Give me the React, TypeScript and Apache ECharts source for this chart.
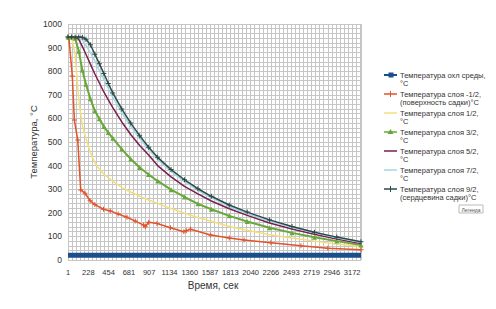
import React, { useEffect, useRef } from "react";
import * as echarts from "echarts";

const times = [0, 40, 80, 120, 160, 200, 250, 300, 350, 400, 450, 500, 600, 700, 800, 900, 1000, 1150, 1300, 1450, 1600, 1800, 2000, 2250, 2500, 2750, 3000, 3270];

const ambientTimes = [0, 3270];
const ambientValues = [20, 20];

const surfaceTimes = [0, 10, 48, 71, 109, 142, 190, 247, 300, 396, 471, 560, 658, 750, 844, 863, 900, 994, 1143, 1293, 1320, 1368, 1592, 1800, 1965, 2265, 2600, 2900, 3270];
const surfaceValues = [945, 940, 780, 593, 508, 297, 283, 251, 235, 215, 208, 195, 181, 165, 148, 141, 160, 155, 137, 120, 124, 130, 106, 93, 85, 73, 60, 50, 43];

const layer12 = [945, 945, 870, 680, 570, 515, 455, 412, 385, 365, 348, 333, 308, 288, 270, 254, 240, 218, 198, 180, 164, 142, 126, 107, 93, 80, 68, 57];
const layer32 = [945, 945, 940, 885, 805, 745, 683, 632, 598, 566, 540, 516, 470, 428, 392, 362, 335, 298, 267, 238, 215, 187, 163, 137, 115, 96, 80, 64];
const layer52 = [945, 945, 944, 935, 905, 872, 830, 788, 750, 712, 678, 646, 585, 532, 485, 445, 400, 352, 312, 280, 250, 217, 189, 157, 131, 109, 89, 70];
const layer72 = [945, 945, 945, 943, 932, 910, 880, 842, 803, 765, 727, 690, 625, 567, 515, 468, 426, 375, 332, 295, 263, 227, 197, 165, 138, 115, 94, 74];
const layer92 = [945, 945, 945, 945, 944, 935, 912, 872, 832, 790, 748, 708, 640, 580, 527, 478, 435, 383, 340, 302, 270, 233, 203, 170, 142, 118, 97, 77];

const seriesNames = [
  "Температура охл среды,\n°C",
  "Температура слоя -1/2,\n(поверхность садки)°C",
  "Температура слоя 1/2,\n°C",
  "Температура слоя 3/2,\n°C",
  "Температура слоя 5/2,\n°C",
  "Температура слоя 7/2,\n°C",
  "Температура слоя 9/2,\n(сердцевина садки)°C",
];
const colors = ["#1b4f8a", "#e2532b", "#f2df7a", "#68a83a", "#7b1e4e", "#a6d6e3", "#2e4a48"];
const markers = ["rect", "plus", "none", "triangle", "none", "none", "plus"];

const xAxisTitle = "Время, сек";
const yAxisTitle = "Температура, °C";
const legendButton = "Легенда";

const FONT = "'Liberation Sans', Arial, sans-serif";
const PLUS = "path://M2,0H3V2H5V3H3V5H2V3H0V2H2Z";

function pairs(ts: number[], vs: number[]) {
  return ts.map((t, i) => [t, vs[i]]);
}

function legendGraphic() {
  const els: any[] = [];
  seriesNames.forEach((name, i) => {
    const y0 = 75 + i * 19;
    const c = colors[i];
    els.push({ type: "line", shape: { x1: 384, y1: y0, x2: 397, y2: y0 }, style: { stroke: c, lineWidth: i === 0 ? 2 : 1.5 } });
    const m = markers[i];
    if (m === "rect") {
      els.push({ type: "rect", shape: { x: 388.5, y: y0 - 2.5, width: 5, height: 5 }, style: { fill: c } });
    } else if (m === "plus") {
      els.push({ type: "line", shape: { x1: 390.5, y1: y0 - 3, x2: 390.5, y2: y0 + 3 }, style: { stroke: c, lineWidth: 1 } });
    } else if (m === "triangle") {
      els.push({ type: "polygon", shape: { points: [[390.5, y0 - 3], [393.5, y0 + 2], [387.5, y0 + 2]] }, style: { fill: c } });
    }
    els.push({
      type: "text",
      x: 400,
      y: y0 - 4.3,
      style: { text: name, font: `7.5px ${FONT}`, fill: "#333", lineHeight: 8.6, align: "left", verticalAlign: "top" },
    });
  });
  els.push({ type: "rect", shape: { x: 459, y: 205, width: 24, height: 8 }, style: { fill: "#fff", stroke: "#bbb", lineWidth: 1 } });
  els.push({ type: "text", x: 471, y: 209.5, style: { text: legendButton, font: `5px ${FONT}`, fill: "#555", align: "center", verticalAlign: "middle" } });
  els.push({ type: "text", x: 33, y: 142, rotation: Math.PI / 2, style: { text: yAxisTitle, font: `9.5px ${FONT}`, fill: "#333", align: "center", verticalAlign: "middle" } });
  els.push({ type: "text", x: 213, y: 285, style: { text: xAxisTitle, font: `10px ${FONT}`, fill: "#333", align: "center", verticalAlign: "middle" } });
  return els;
}

export default function App() {
  const ref = useRef<HTMLDivElement>(null);
  useEffect(() => {
    const chart = echarts.init(ref.current!, null, { renderer: "svg" });
    const gridLine = { show: true, lineStyle: { color: "#c6c6c6", width: 1 } };
    const seriesData = [
      pairs(ambientTimes, ambientValues),
      pairs(surfaceTimes, surfaceValues),
      pairs(times, layer12),
      pairs(times, layer32),
      pairs(times, layer52),
      pairs(times, layer72),
      pairs(times, layer92),
    ];
    const series = seriesData.map((d, i) => {
      const m = markers[i];
      return {
        name: seriesNames[i],
        type: "line",
        data: d,
        symbol: i === 0 ? "none" : m === "plus" ? PLUS : m,
        symbolSize: 5,
        showSymbol: i !== 0 && m !== "none",
        lineStyle: { color: colors[i], width: i === 0 ? 5 : i === 3 ? 2 : 1.5 },
        itemStyle: { color: colors[i] },
        z: i === 0 ? 10 : 2 + i,
        silent: true,
      };
    });
    chart.setOption({
      animation: false,
      textStyle: { fontFamily: FONT },
      grid: { left: 68, right: 135, top: 24, bottom: 49 },
      xAxis: {
        type: "value",
        min: 0,
        max: 3270,
        interval: 226.5,
        axisLine: { show: false },
        axisTick: { show: false },
        axisLabel: {
          formatter: (v: number) => String(Math.round(v + 1)),
          fontSize: 7.5,
          color: "#333",
          margin: 8,
          showMaxLabel: false,
          fontFamily: FONT,
        },
        splitLine: gridLine,
        minorTick: { show: false, splitNumber: 5 },
        minorSplitLine: gridLine,
      },
      yAxis: {
        type: "value",
        min: 0,
        max: 1000,
        interval: 100,
        axisLine: { show: false },
        axisTick: { show: false },
        axisLabel: { formatter: (v: number) => String(v), fontSize: 8.5, color: "#333", margin: 6, fontFamily: FONT },
        splitLine: gridLine,
        minorTick: { show: false, splitNumber: 5 },
        minorSplitLine: gridLine,
      },
      series,
      graphic: legendGraphic(),
    });
    return () => chart.dispose();
  }, []);
  return <div ref={ref} style={{ width: 496, height: 309, position: "absolute", left: 0, top: 0 }} />;
}
